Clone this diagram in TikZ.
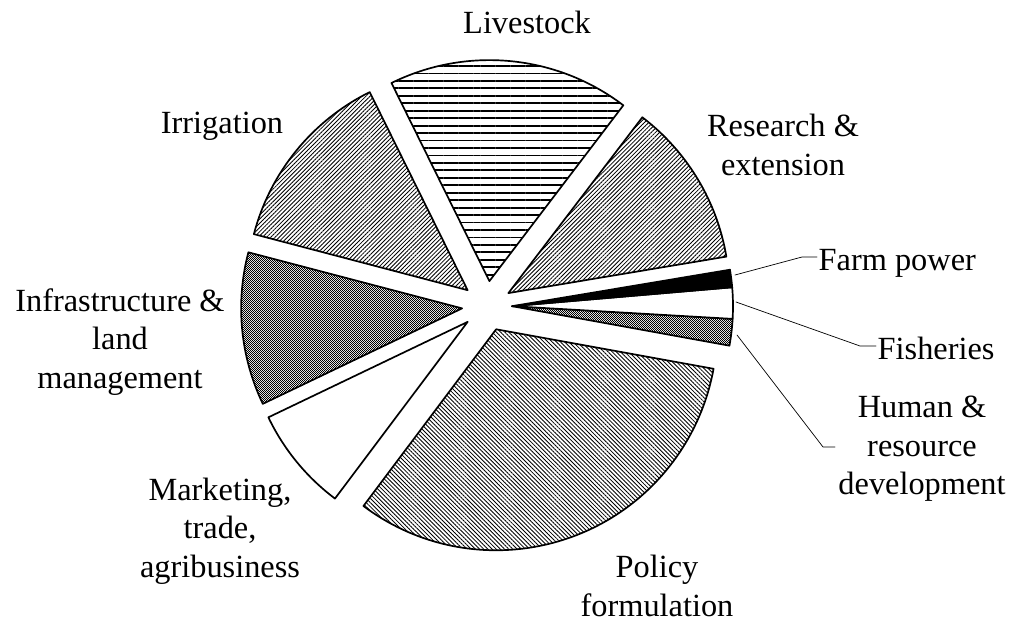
\documentclass[tikz,border=0pt]{standalone}
\usepackage{fontspec}
\setmainfont{Liberation Serif}
\usetikzlibrary{patterns,patterns.meta}

\pgfdeclarepatternformonly{checks}{\pgfpointorigin}{\pgfqpoint{1.42pt}{1.42pt}}{\pgfqpoint{1.42pt}{1.42pt}}{%
\pgfpathrectangle{\pgfpointorigin}{\pgfqpoint{0.71pt}{0.71pt}}%
\pgfpathrectangle{\pgfqpoint{0.71pt}{0.71pt}}{\pgfqpoint{0.71pt}{0.71pt}}%
\pgfusepath{fill}}

\tikzset{
slice/.style={draw=black,line width=1.2pt},
humanfill/.style={pattern=checks},
fishfill/.style={fill=white},
farmfill/.style={fill=black},
researchfill/.style={pattern={Lines[angle=45,distance=2.1pt,line width=0.6pt]}},
livestockfill/.style={pattern={Lines[angle=0,distance=5.3pt,line width=1.3pt]}},
irrigfill/.style={pattern={Lines[angle=45,distance=2.1pt,line width=0.6pt]}},
infrafill/.style={pattern=checks},
marketfill/.style={fill=white},
policyfill/.style={pattern={Lines[angle=-45,distance=2.1pt,line width=0.6pt]}},
lbl/.style={font=\fontsize{23}{27.5}\selectfont,align=center,inner sep=1pt},
leader/.style={draw=black,line width=0.5pt}
}

\begin{document}
\begin{tikzpicture}[line cap=round,line join=round,x=0.025cm,y=0.025cm]
\useasboundingbox (0,0) rectangle (1016,625);
\coordinate (c) at (487,319);
\foreach \a/\b/\m/\s in {-10.3/-3.3/-0.4/humanfill,-3.3/4.9/-0.4/fishfill,4.9/9.5/-0.4/farmfill,
9.5/52.7/31.1/researchfill,52.7/116.3/84.5/livestockfill,116.3/165.3/140.8/irrigfill,
165.3/205.6/185.45/infrafill,205.6/233.1/219.35/marketfill,233.1/349.7/291.4/policyfill}
\draw[slice,\s] (c) ++(\m:25) -- ++(\a:221) arc[start angle=\a,end angle=\b,radius=221] -- cycle;

\node[lbl] (livestock) at (527,603) {Livestock};
\node[lbl] (irrigation) at (222,499) {Irrigation};
\node[lbl] (research) at (783,480) {Research \&\\extension};
\node[lbl,anchor=west] (farmpower) at (817,362) {Farm power};
\node[lbl,anchor=west] (fisheries) at (876,277) {Fisheries};
\node[lbl] (human) at (922,176) {Human \&\\resource\\development};
\node[lbl] (infra) at (120,283) {Infrastructure \&\\land\\management};
\node[lbl] (marketing) at (220,94) {Marketing,\\trade,\\agribusiness};
\node[lbl] (policy) at (657,39) {Policy\\formulation};

\coordinate (farmpt) at (735,350);
\coordinate (farmbend) at (802,368);
\coordinate (fishpt) at (736,323);
\coordinate (fishbend) at (860,279);
\coordinate (humanpt) at (737,290);
\coordinate (humanbend) at (823,178);
\coordinate (humanend) at (835,178);
\draw[leader] (farmpt) -- (farmbend) -- (farmbend -| farmpower.west);
\draw[leader] (fishpt) -- (fishbend) -- (fishbend -| fisheries.west);
\draw[leader] (humanpt) -- (humanbend) -- (humanend);
\end{tikzpicture}
\end{document}
